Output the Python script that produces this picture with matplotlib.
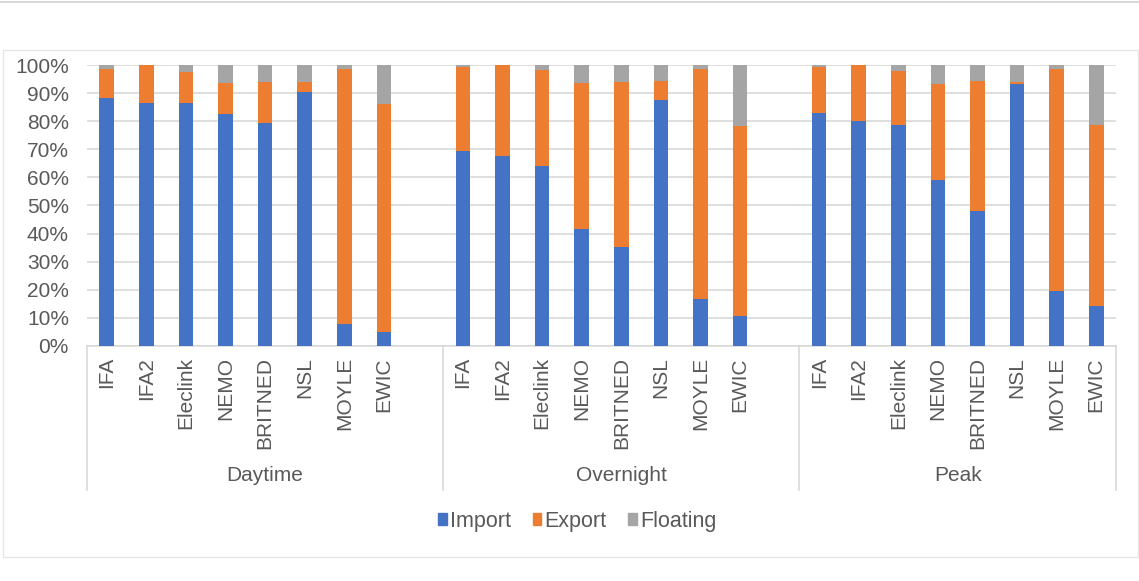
import matplotlib
matplotlib.use('Agg')
import matplotlib.pyplot as plt
from matplotlib.patches import Rectangle
from matplotlib.lines import Line2D
import numpy as np

plt.rcParams['font.family'] = ['Liberation Sans', 'DejaVu Sans']

# data (percent of time)
links = ['IFA', 'IFA2', 'Eleclink', 'NEMO', 'BRITNED', 'NSL', 'MOYLE', 'EWIC']
periods = ['Daytime', 'Overnight', 'Peak']

import_day = [88.4, 86.6, 86.6, 82.5, 79.2, 90.3, 8.0, 4.8]
export_day = [10.2, 13.4, 11.0, 11.0, 14.9, 3.5, 90.7, 81.2]
floating_day = [1.4, 0.0, 2.4, 6.5, 5.9, 6.2, 1.3, 14.0]

import_night = [69.5, 67.6, 64.0, 41.6, 35.3, 87.4, 16.6, 10.7]
export_night = [29.7, 32.4, 34.2, 51.9, 58.5, 6.8, 82.1, 67.6]
floating_night = [0.8, 0.0, 1.8, 6.5, 6.2, 5.8, 1.3, 21.7]

import_peak = [82.8, 80.0, 78.5, 58.9, 47.9, 93.1, 19.6, 14.1]
export_peak = [16.6, 20.0, 19.5, 34.2, 46.3, 1.0, 78.9, 64.4]
floating_peak = [0.6, 0.0, 2.0, 6.9, 5.8, 5.9, 1.5, 21.5]

imports = [import_day, import_night, import_peak]
exports = [export_day, export_night, export_peak]
floats = [floating_day, floating_night, floating_peak]

c_imp = '#4472C4'
c_exp = '#ED7D31'
c_flo = '#A5A5A5'
txt = '#595959'
grid = '#D9D9D9'
fs = 15

fig = plt.figure(figsize=(11.39, 5.81), dpi=100)

# chart frame like the Excel chart area
fig.add_artist(Line2D([0, 1], [0.9966, 0.9966], color='#D0D0D0', lw=1.2))
fig.add_artist(Rectangle((0.003, 0.042), 0.996, 0.872, fill=False,
                         edgecolor='#E6E6E6', lw=1))

ax = fig.add_axes([0.0764, 0.4045, 0.9034, 0.4836])

n = len(links)
xpos = []
xlabels = []
group_start = []
for g in range(3):
    start = g * (n + 1)
    group_start.append(start)
    x = np.arange(start, start + n)
    xpos.extend(x)
    xlabels.extend(links)
    imp = np.array(imports[g])
    exp = np.array(exports[g])
    flo = np.array(floats[g])
    ax.bar(x, imp, width=0.37, color=c_imp, zorder=3)
    ax.bar(x, exp, width=0.37, bottom=imp, color=c_exp, zorder=3)
    ax.bar(x, flo, width=0.37, bottom=imp + exp, color=c_flo, zorder=3)

last = group_start[-1] + n - 1
ax.set_xlim(-0.5, last + 0.5)
ax.set_ylim(0, 100)
ax.set_yticks(range(0, 101, 10))
ax.set_yticklabels(['%d%%' % v for v in range(0, 101, 10)])
ax.yaxis.grid(True, color=grid, lw=1.2, zorder=0)
ax.set_xticks(xpos)
ax.set_xticklabels(xlabels, rotation=90)
ax.tick_params(axis='y', length=0, pad=13, labelsize=fs, labelcolor=txt)
ax.tick_params(axis='x', length=0, pad=8, labelsize=fs, labelcolor=txt)
for s in ['left', 'right', 'top']:
    ax.spines[s].set_visible(False)
ax.spines['bottom'].set_color(grid)
ax.spines['bottom'].set_linewidth(1.2)

# multi-level category axis
trans = ax.get_xaxis_transform()
seps = [-0.5] + [s + n + 0.5 for s in group_start[:-1]] + [last + 0.5]
for xs in seps:
    ax.plot([xs, xs], [0, -0.513], transform=trans, color=grid, lw=1.2,
            clip_on=False)
for g, name in enumerate(periods):
    mid = (seps[g] + seps[g + 1]) / 2
    ax.text(mid, -0.462, name, transform=trans, ha='center', va='center',
            fontsize=fs, color=txt)

handles = [Rectangle((0, 0), 1, 1, color=c) for c in (c_imp, c_exp, c_flo)]
leg = fig.legend(handles, ['Import', 'Export', 'Floating'], loc='center',
                 bbox_to_anchor=(0.507, 0.103), ncol=3, frameon=False,
                 fontsize=fs + 0.5, handlelength=0.4, handleheight=0.45,
                 handletextpad=0.15, columnspacing=1.0)
for t in leg.get_texts():
    t.set_color(txt)

fig.savefig('out.png', dpi=100)
